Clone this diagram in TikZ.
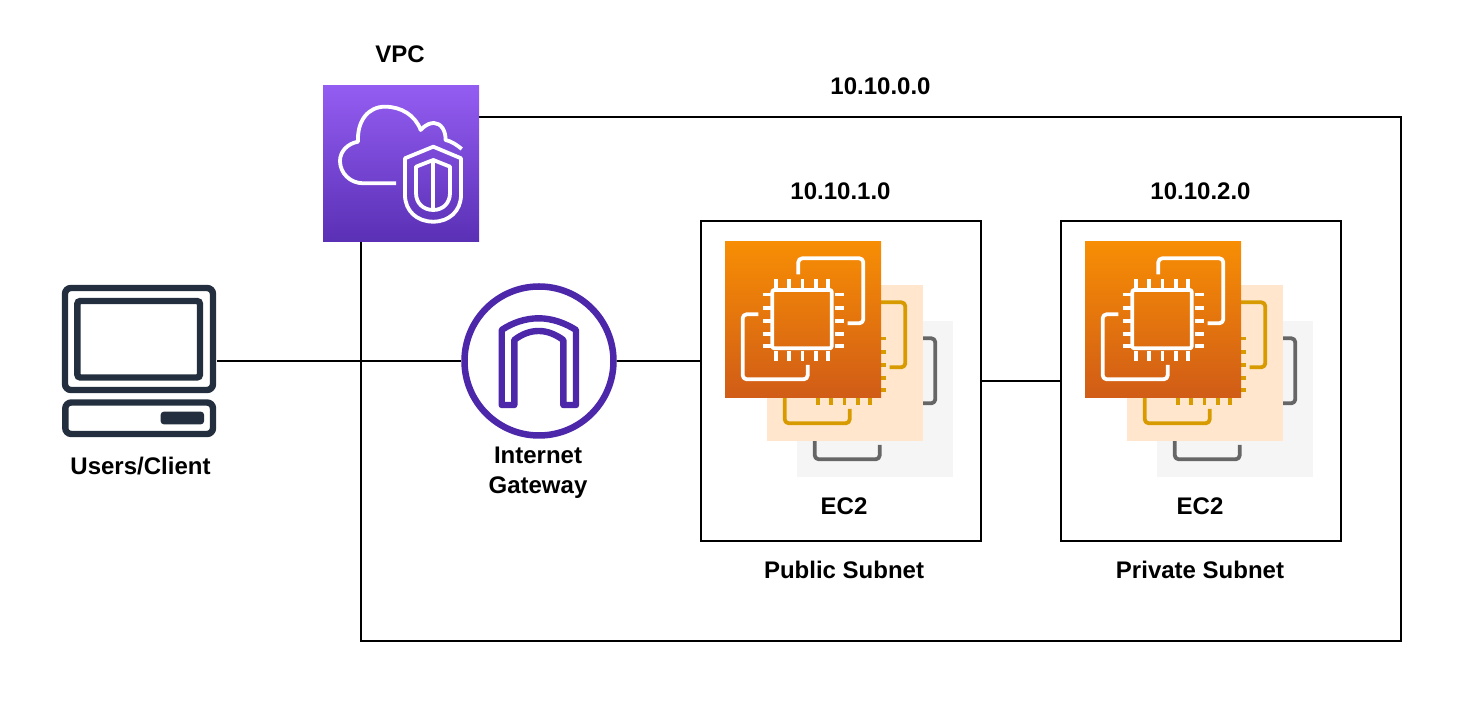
\documentclass[tikz,border=0pt]{standalone}
\usepackage{fontspec}
\setmainfont{Liberation Sans}
\definecolor{ink}{HTML}{232F3E}
\definecolor{igwc}{HTML}{4D27AA}
\definecolor{peach}{HTML}{FFE6CC}
\definecolor{peachline}{HTML}{D79B00}
\definecolor{pale}{HTML}{F5F5F5}
\definecolor{paleline}{HTML}{666666}
\definecolor{ectop}{HTML}{F78E04}
\definecolor{ecbot}{HTML}{D05C17}
\definecolor{vpctop}{HTML}{945DF2}
\definecolor{vpcbot}{HTML}{5A30B5}
\tikzset{
  x=0.5pt,y=-0.5pt,
  box/.style={draw=black,line width=1pt,fill=none,minimum width=#1,inner sep=0pt,outer sep=0pt},
  lbl/.style={font=\bfseries\fontsize{12}{15}\selectfont,text=black,inner sep=0pt,align=center},
  link/.style={draw=black,line width=1pt},
  tile/.style={minimum width=78pt,minimum height=78pt,inner sep=0pt,outer sep=0pt,draw=none},
  glyph/.style={line width=1.9pt,line join=round,fill=none},
  pics/ecicon/.style={code={
    \draw[glyph,draw=#1,rounded corners=2pt] (73.3,33.3) -- (73.3,17.3) -- (138.3,17.3) -- (138.3,82.3) -- (122.7,82.3);
    \draw[glyph,draw=#1,rounded corners=2pt] (33.3,73.3) -- (17.7,73.3) -- (17.7,138.3) -- (82.7,138.3) -- (82.7,124);
    \draw[glyph,draw=#1,rounded corners=1pt] (47.3,49) rectangle (106.7,107.3);
    \foreach \p in {51,64,77.5,91,103}{
      \draw[glyph,draw=#1] (\p,38) -- (\p,47);
      \draw[glyph,draw=#1] (\p,110.5) -- (\p,120);
    }
    \foreach \p in {53.5,66.7,80,93.3,105}{
      \draw[glyph,draw=#1] (37.7,\p) -- (47,\p);
      \draw[glyph,draw=#1] (109.5,\p) -- (118.5,\p);
    }
  }}
}
\begin{document}
\begin{tikzpicture}
\useasboundingbox (0,0) rectangle (1462,704);
% outer VPC frame
\node[box=520pt,minimum height=262pt] (vpcframe) at (881,379) {};
% subnets
\node[box=140pt,minimum height=160pt] (pub) at (841,381) {};
\node[box=140pt,minimum height=160pt] (priv) at (1201,381) {};
% client + gateway anchors
\node[minimum width=77.5pt,minimum height=77.5pt,inner sep=0pt,outer sep=0pt] (client) at (139.5,361) {};
\node[circle,draw=igwc,line width=3.25pt,minimum size=74.5pt,inner sep=0pt,outer sep=1.6pt,fill=white] (igw) at (539,361) {};
% connectors
\draw[link] (client.east) -- (igw.west);
\draw[link] (igw.east) -- (pub.west |- igw.east);
\draw[link] (pub.east) -- (priv.west);
% client icon
\begin{scope}[rounded corners=3pt]
\draw[ink,line width=3.2pt] (65,288) rectangle (213,390);
\draw[ink,line width=3.2pt,rounded corners=1.5pt] (77.3,301) rectangle (200,377.5);
\draw[ink,line width=3.2pt] (65.3,402.5) rectangle (213,434);
\end{scope}
\fill[ink,rounded corners=1.5pt] (160.7,411.7) rectangle (204,424.3);
% gateway arch
\draw[igwc,line width=3.2pt,line join=round] (501.7,405) -- (501.7,330) .. controls (512,323) and (525,318.3) .. (538.7,318.3) .. controls (552,318.3) and (565,323) .. (576,330) -- (576,405) -- (563.3,405) -- (563.3,340) .. controls (555,334) and (547,331) .. (538.7,331) .. controls (530,331) and (522,334) .. (514.3,340) -- (514.3,405) -- cycle;
% VPC icon
\node[tile,top color=vpctop,bottom color=vpcbot] (vpc) at (401,163.25) {};
\begin{scope}[shift={(323,85)}]
\draw[glyph,white,line cap=butt] (73,98.3) -- (40.3,98.3) .. controls (27,98.3) and (17,88) .. (17,76) .. controls (17,66) and (25,58.5) .. (35,56.7) .. controls (34,36) and (45,21.7) .. (62,21.7) .. controls (78,21.7) and (92,30) .. (97.7,45) .. controls (103,39) and (108,38) .. (111,38) .. controls (118,38) and (123,46) .. (122.5,55) .. controls (128,56) and (134,60) .. (138.7,64);
\draw[glyph,white] (110.3,61.7) -- (82,73.3) -- (82,110) .. controls (82,126) and (94,136.7) .. (110.3,136.7) .. controls (126,136.7) and (138,126) .. (138,110) -- (138,73.3) -- cycle;
\draw[glyph,white] (110.3,75) -- (93,81.7) -- (93,108) .. controls (93,118) and (100,125) .. (110.3,125) .. controls (120,125) and (127,118) .. (127,108) -- (127,81.7) -- cycle;
\draw[glyph,white] (110.3,75) -- (110.3,125);
\end{scope}
% EC2 stacks, public
\node[tile,fill=pale] (pa) at (875,399) {};
\path (797,321) pic {ecicon=paleline};
\node[tile,fill=peach] (pb) at (845,363) {};
\path (767,285) pic {ecicon=peachline};
\node[tile,top color=ectop,bottom color=ecbot] (pc) at (803,319.25) {};
\path (725,241) pic {ecicon=white};
% EC2 stacks, private
\node[tile,fill=pale] (qa) at (1235,399) {};
\path (1157,321) pic {ecicon=paleline};
\node[tile,fill=peach] (qb) at (1205,363) {};
\path (1127,285) pic {ecicon=peachline};
\node[tile,top color=ectop,bottom color=ecbot] (qc) at (1163,319.25) {};
\path (1085,241) pic {ecicon=white};
% labels
\node[lbl] (tvpc) at (400,54) {VPC};
\node[lbl] (tmain) at (880.5,86) {10.10.0.0};
\node[lbl] (tpub) at (840.5,191) {10.10.1.0};
\node[lbl] (tpriv) at (1200.5,191) {10.10.2.0};
\node[lbl] (tclient) at (140.5,466) {Users/Client};
\node[lbl] (tigw) at (538,473) {Internet\\Gateway};
\node[lbl] (tea) at (844,506) {EC2};
\node[lbl] (teb) at (1200,506) {EC2};
\node[lbl] (tps) at (844,570) {Public Subnet};
\node[lbl] (tqs) at (1200,570) {Private Subnet};
\end{tikzpicture}
\end{document}
